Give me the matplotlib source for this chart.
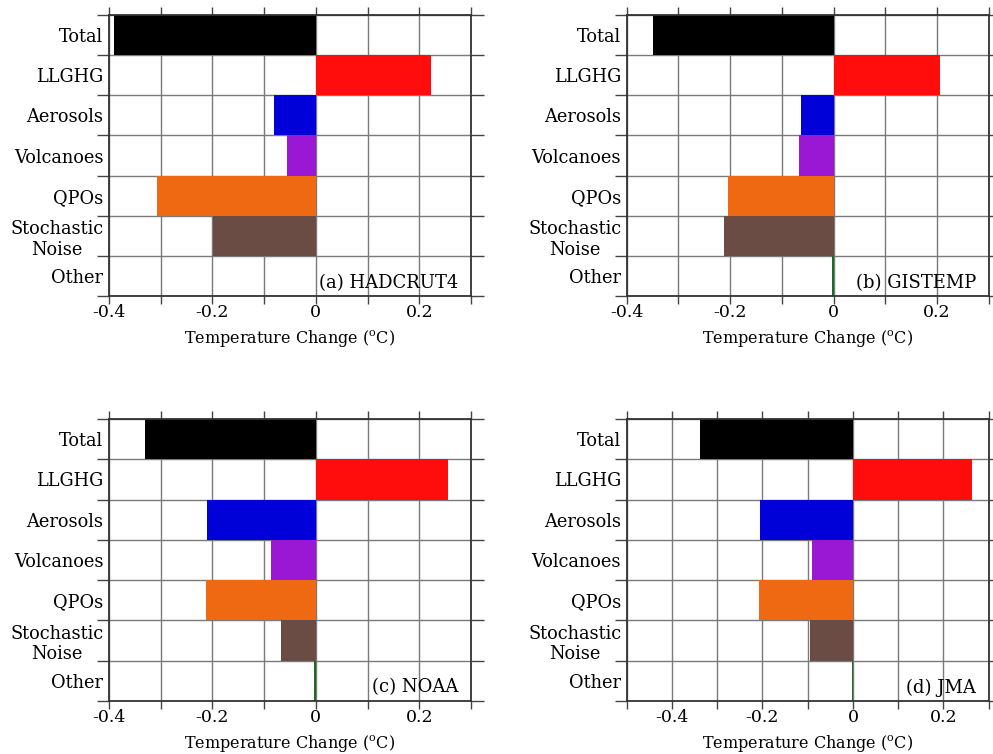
import numpy as np
import matplotlib
matplotlib.use("Agg")
import matplotlib.pyplot as plt

plt.rcParams['font.family'] = ['DejaVu Serif']
plt.rcParams['mathtext.fontset'] = 'dejavuserif'

categories = ["Total", "LLGHG", "Aerosols", "Volcanoes", "QPOs",
              "Stochastic\nNoise", "Other"]
colors = ["#000000", "#ff0d0d", "#0000d8", "#9a18d4", "#ee6912",
          "#6a4c45", "#1b6b24"]

hadcrut4 = [-0.39, 0.222, -0.081, -0.056, -0.308, -0.199, 0.0]
gistemp = [-0.35, 0.205, -0.063, -0.066, -0.205, -0.211, -0.003]
noaa = [-0.33, 0.255, -0.21, -0.087, -0.212, -0.067, -0.003]
jma = [-0.339, 0.264, -0.205, -0.09, -0.207, -0.094, -0.002]

panels = [
    ("(a) HADCRUT4", hadcrut4, (-0.4, 0.3)),
    ("(b) GISTEMP", gistemp, (-0.4, 0.3)),
    ("(c) NOAA", noaa, (-0.4, 0.3)),
    ("(d) JMA", jma, (-0.5, 0.3)),
]

fig = plt.figure(figsize=(9.93, 7.54), dpi=100)
boxes = [
    [0.1098, 0.6074, 0.3645, 0.3727],
    [0.6311, 0.6074, 0.3645, 0.3727],
    [0.1098, 0.0703, 0.3645, 0.3740],
    [0.6311, 0.0703, 0.3645, 0.3740],
]

n = len(categories)
ypos = np.arange(n)[::-1] + 0.5

for box, (name, vals, xl) in zip(boxes, panels):
    ax = fig.add_axes(box)
    ax.barh(ypos, vals, height=1.0, color=colors, linewidth=0, zorder=2)
    ax.set_xlim(*xl)
    ax.set_ylim(0, n)

    xt = np.round(np.arange(xl[0], xl[1] + 0.001, 0.1), 2)
    ax.set_xticks(xt)
    lab = []
    for v in xt:
        if abs(v) < 1e-9:
            lab.append("0")
        elif abs(round(v / 0.2) * 0.2 - v) < 1e-6 and v > -0.45:
            lab.append("%.1f" % v)
        else:
            lab.append("")
    ax.set_xticklabels(lab)
    ax.set_yticks(np.arange(n + 1))
    ax.set_yticklabels([])
    ax.set_yticks(ypos, minor=True)
    ax.set_yticklabels(categories, minor=True)
    for t in ax.get_yticklabels(minor=True):
        t.set_multialignment('center')

    ax.grid(True, which='major', color='#7a7a7a', lw=1.0, zorder=1)
    ax.set_axisbelow(True)
    ax.tick_params(axis='y', which='major', direction='out', length=9,
                   left=True, right=True, color='#444444', width=1.0)
    ax.tick_params(axis='y', which='minor', length=0, pad=4, labelsize=12.8)
    ax.tick_params(axis='x', which='major', direction='out', length=6,
                   top=True, bottom=True, color='#444444', width=1.0,
                   labelsize=12.5, pad=0)
    for s in ax.spines.values():
        s.set_color('#333333')
        s.set_linewidth(1.3)
        s.set_zorder(3)

    ax.set_xlabel(r"Temperature Change ($^{\rm o}$C)", fontsize=11.5,
                  labelpad=4.5)
    ax.text(0.965, 0.03, name, transform=ax.transAxes, ha='right',
            va='baseline', fontsize=13, zorder=4)

plt.savefig("out.png", dpi=100)
